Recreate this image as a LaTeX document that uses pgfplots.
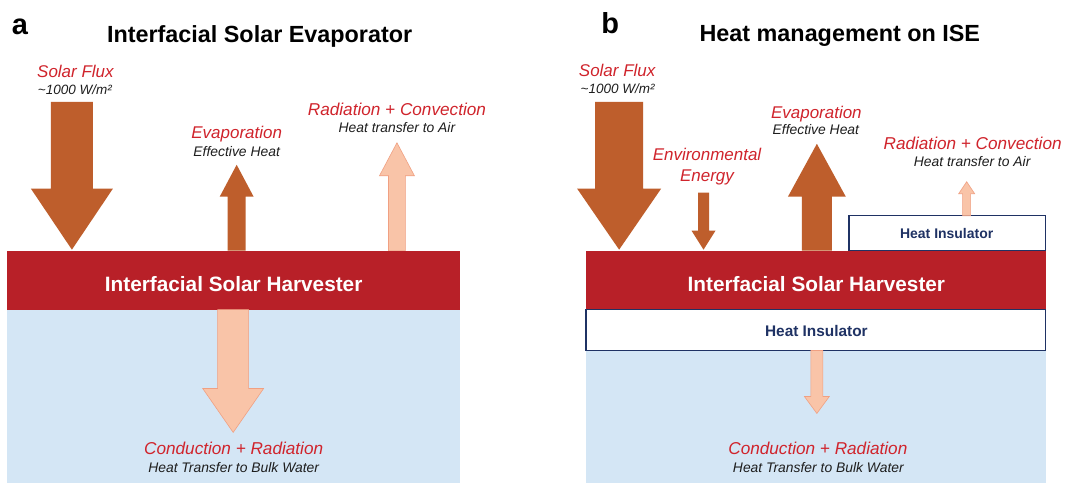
\documentclass[border=0pt]{standalone}
\usepackage{pgfplots}
\pgfplotsset{compat=1.18}
\usepackage{fontspec}
\setmainfont{Liberation Sans}
\definecolor{arrowD}{RGB}{190,94,44}
\definecolor{peach}{RGB}{249,196,168}
\definecolor{peachE}{RGB}{240,160,130}
\definecolor{harv}{RGB}{184,32,40}
\definecolor{water}{RGB}{212,230,245}
\definecolor{navy}{RGB}{31,50,100}
\definecolor{redtxt}{RGB}{208,36,44}
\definecolor{subtxt}{RGB}{30,30,30}
\newcommand\fsz[1]{\fontsize{#1bp}{#1bp}\selectfont}
\begin{document}
\begin{tikzpicture}
\begin{axis}[width=1065bp,height=484bp,scale only axis,
  xmin=0,xmax=1065,ymin=0,ymax=484,y dir=reverse,hide axis,clip=false]
% background
\addplot[fill=white,draw=none] coordinates {(0,0)(1065,0)(1065,484)(0,484)} -- cycle;
% ---------- panel a ----------
\addplot[fill=water,draw=none] coordinates {(7,310)(461,310)(461,484)(7,484)} -- cycle;
\addplot[fill=harv,draw=none] coordinates {(7,251)(461,251)(461,310)(7,310)} -- cycle;
% solar flux arrow a
\addplot[fill=arrowD,draw=none] coordinates {(51,102)(93,102)(93,189)(113,189)(72,250)(31,189)(51,189)} -- cycle;
% evaporation arrow a
\addplot[fill=arrowD,draw=none] coordinates {(228,251)(246,251)(246,197)(254,197)(237,165)(220,197)(228,197)} -- cycle;
% radiation arrow a
\addplot[fill=peach,draw=peachE,line width=0.6bp] coordinates {(389,251)(406,251)(406,176)(415,176)(397.5,143)(380,176)(389,176)} -- cycle;
% conduction arrow a
\addplot[fill=peach,draw=peachE,line width=0.6bp] coordinates {(218,310)(249,310)(249,389)(264,389)(233.5,433)(203,389)(218,389)} -- cycle;
% ---------- panel b ----------
\addplot[fill=water,draw=none] coordinates {(587,351)(1047,351)(1047,484)(587,484)} -- cycle;
\addplot[fill=harv,draw=none] coordinates {(587,251)(1047,251)(1047,310)(587,310)} -- cycle;
\addplot[fill=white,draw=navy,line width=1.5bp] coordinates {(587,310)(1047,310)(1047,351)(587,351)} -- cycle;
\addplot[fill=white,draw=navy,line width=1.5bp] coordinates {(850,216)(1047,216)(1047,251)(850,251)} -- cycle;
% solar flux arrow b
\addplot[fill=arrowD,draw=none] coordinates {(596,102)(644,102)(644,189)(662,189)(620,250)(578,189)(596,189)} -- cycle;
% environmental energy arrow
\addplot[fill=arrowD,draw=none] coordinates {(699,193)(710,193)(710,231)(716.5,231)(704.5,250)(692.5,231)(699,231)} -- cycle;
% evaporation arrow b
\addplot[fill=arrowD,draw=none] coordinates {(803,251)(833,251)(833,197)(847,197)(818,144)(789,197)(803,197)} -- cycle;
% radiation arrow b
\addplot[fill=peach,draw=peachE,line width=0.6bp] coordinates {(964,216)(972,216)(972,194)(976,194)(968,182)(960,194)(964,194)} -- cycle;
% conduction arrow b
\addplot[fill=peach,draw=peachE,line width=0.6bp] coordinates {(812,351)(824,351)(824,397)(830.5,397)(818,414)(805.5,397)(812,397)} -- cycle;
% ---------- text a ----------
\node[anchor=base] at (axis cs:20,35) {\fsz{29}\bfseries a};
\node[anchor=base] at (axis cs:260,43) {\fsz{23.4}\bfseries Interfacial Solar Evaporator};
\node[anchor=base,text=redtxt] at (axis cs:75.5,78) {\fsz{17}\itshape Solar Flux};
\node[anchor=base,text=subtxt] at (axis cs:75,95) {\fsz{13.5}\itshape \textasciitilde 1000 W/m²};
\node[anchor=base,text=redtxt] at (axis cs:237,139) {\fsz{17}\itshape Evaporation};
\node[anchor=base,text=subtxt] at (axis cs:237,157) {\fsz{13.9}\itshape Effective Heat};
\node[anchor=base,text=redtxt] at (axis cs:397.5,116) {\fsz{17.2}\itshape Radiation + Convection};
\node[anchor=base,text=subtxt] at (axis cs:397.5,133) {\fsz{13.9}\itshape Heat transfer to Air};
\node[anchor=base,text=white] at (axis cs:234,292) {\fsz{20.8}\bfseries Interfacial Solar Harvester};
\node[anchor=base,text=redtxt] at (axis cs:234,455) {\fsz{17.2}\itshape Conduction + Radiation};
\node[anchor=base,text=subtxt] at (axis cs:234,473) {\fsz{13.9}\itshape Heat Transfer to Bulk Water};
% ---------- text b ----------
\node[anchor=base] at (axis cs:611,34) {\fsz{29}\bfseries b};
\node[anchor=base] at (axis cs:841,42) {\fsz{23.4}\bfseries Heat management on ISE};
\node[anchor=base,text=redtxt] at (axis cs:618,77) {\fsz{17}\itshape Solar Flux};
\node[anchor=base,text=subtxt] at (axis cs:618.5,94) {\fsz{13.5}\itshape \textasciitilde 1000 W/m²};
\node[anchor=base,text=redtxt] at (axis cs:708,161) {\fsz{17}\itshape Environmental};
\node[anchor=base,text=redtxt] at (axis cs:708,182) {\fsz{17}\itshape Energy};
\node[anchor=base,text=redtxt] at (axis cs:817.5,119) {\fsz{17}\itshape Evaporation};
\node[anchor=base,text=subtxt] at (axis cs:817,135) {\fsz{13.9}\itshape Effective Heat};
\node[anchor=base,text=redtxt] at (axis cs:974,150) {\fsz{17.2}\itshape Radiation + Convection};
\node[anchor=base,text=subtxt] at (axis cs:973.5,167) {\fsz{13.9}\itshape Heat transfer to Air};
\node[anchor=base,text=navy] at (axis cs:948,239) {\fsz{14}\bfseries Heat Insulator};
\node[anchor=base,text=white] at (axis cs:817.5,292) {\fsz{20.8}\bfseries Interfacial Solar Harvester};
\node[anchor=base,text=navy] at (axis cs:817.5,337) {\fsz{15.4}\bfseries Heat Insulator};
\node[anchor=base,text=redtxt] at (axis cs:819,455) {\fsz{17.2}\itshape Conduction + Radiation};
\node[anchor=base,text=subtxt] at (axis cs:819.5,473) {\fsz{13.9}\itshape Heat Transfer to Bulk Water};
\end{axis}
\end{tikzpicture}
\end{document}
